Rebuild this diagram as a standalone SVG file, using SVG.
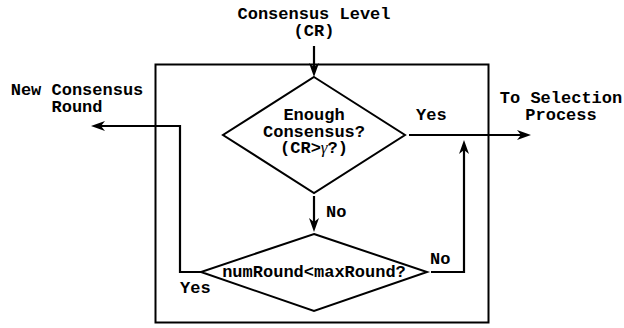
<svg xmlns="http://www.w3.org/2000/svg" width="624" height="328" viewBox="0 0 624 328">
<style>
text{font-family:"Liberation Mono","Courier New",monospace;font-weight:bold;font-size:17px;fill:#000}
.g{font-family:"Liberation Serif","DejaVu Serif",serif;font-style:italic;font-weight:normal}
.s{fill:none;stroke:#000;stroke-width:2}
.c{fill:none;stroke:#000;stroke-width:2.2}
</style>
<defs>
<marker id="ah" markerUnits="userSpaceOnUse" markerWidth="16" markerHeight="12" refX="4" refY="5" orient="auto" viewBox="0 0 16 10">
<path d="M0,0 L14,5 L0,10 L4,5 z" fill="#000"/>
</marker>
</defs>
<rect x="155.5" y="64.5" width="333" height="258" class="s" fill="#fff"/>
<g id="n_input"><text x="314" y="19" text-anchor="middle">Consensus Level</text><text x="314" y="36" text-anchor="middle">(CR)</text></g>
<g id="n_enough">
<polygon points="314,77 405,135 314,193 223,135" class="s" fill="#fff"/>
<text x="314" y="120" text-anchor="middle">Enough</text>
<text x="314" y="137" text-anchor="middle">Consensus?</text>
<text x="314" y="153" text-anchor="middle">(CR&gt;<tspan class="g">γ</tspan>?)</text>
</g>
<g id="n_round">
<polygon points="314,234 427,272 314,311 201,272" class="s" fill="#fff"/>
<text x="314" y="277" text-anchor="middle">numRound&lt;maxRound?</text>
</g>
<g id="n_new"><text x="77" y="95" text-anchor="middle">New Consensus</text><text x="77" y="112" text-anchor="middle">Round</text></g>
<g id="n_sel"><text x="561" y="103" text-anchor="middle">To Selection</text><text x="561" y="120" text-anchor="middle">Process</text></g>
<g id="connectors">
<path d="M314,46 V67" class="c" marker-end="url(#ah)"/>
<path d="M314,196 V222" class="c" marker-end="url(#ah)"/>
<path d="M409,135 H521" class="c" marker-end="url(#ah)"/>
<path d="M431,272 H464 V150" class="c" marker-end="url(#ah)"/>
<path d="M201,272 H180 V126 H101" class="c" marker-end="url(#ah)"/>
<text x="326" y="217">No</text>
<text x="416" y="120">Yes</text>
<text x="430" y="264">No</text>
<text x="180" y="293">Yes</text>
</g>
</svg>
